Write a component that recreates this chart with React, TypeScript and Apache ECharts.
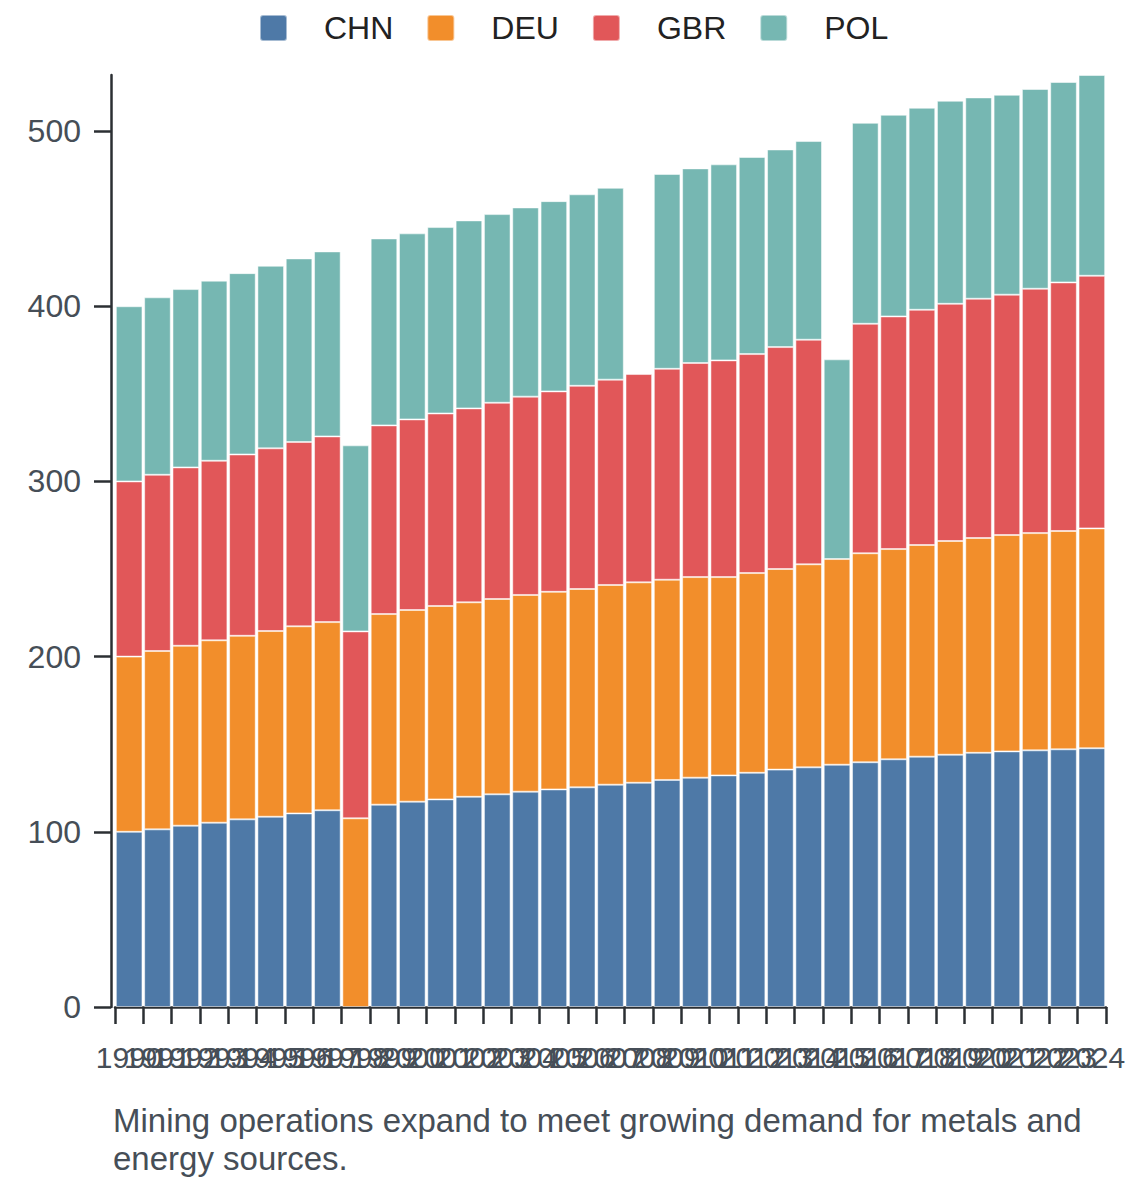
import React, { useEffect, useRef } from "react";
import * as echarts from "echarts";

const years = [
  "1990", "1991", "1992", "1993", "1994", "1995", "1996", "1997", "1998", "1999",
  "2000", "2001", "2002", "2003", "2004", "2005", "2006", "2007", "2008", "2009",
  "2010", "2011", "2012", "2013", "2014", "2015", "2016", "2017", "2018", "2019",
  "2020", "2021", "2022", "2023", "2024",
];

const chn = [
  100, 101.4, 103.5, 105.2, 107.1, 108.6, 110.5, 112.3, null, 115.5,
  117.2, 118.5, 120.0, 121.4, 122.9, 124.2, 125.4, 126.9, 128.0, 129.6,
  130.9, 132.2, 133.7, 135.5, 136.8, 138.3, 139.7, 141.4, 142.9, 144.0,
  145.1, 145.9, 146.5, 147.1, 147.7,
];

const deu = [
  100, 101.8, 102.7, 104.1, 104.8, 106.0, 106.8, 107.4, 107.7, 108.8,
  109.4, 110.4, 111.0, 111.5, 112.3, 112.8, 113.2, 114.0, 114.4, 114.3,
  114.5, 113.2, 114.0, 114.5, 115.9, 117.4, 119.3, 120.0, 120.8, 122.0,
  122.6, 123.5, 124.0, 124.6, 125.5,
];

const gbr = [
  100, 100.6, 101.8, 102.5, 103.5, 104.3, 105.2, 106.0, 106.7, 107.7,
  108.8, 109.9, 110.7, 112.0, 113.2, 114.4, 116.0, 117.2, 118.9, 120.4,
  122.2, 123.7, 125.0, 126.7, 128.2, null, 131.0, 132.8, 134.3, 135.4,
  136.6, 137.2, 139.5, 141.9, 144.2,
];

const pol = [
  100, 101.3, 101.8, 102.8, 103.5, 104.2, 104.8, 105.6, 106.2, 106.7,
  106.2, 106.4, 107.3, 107.7, 108.0, 108.6, 109.3, 109.5, null, 111.2,
  111.1, 111.9, 112.5, 112.8, 113.4, 114.0, 114.7, 115.1, 115.3, 115.9,
  114.9, 114.1, 114.0, 114.4, 114.6,
];

const seriesNames = ["CHN", "DEU", "GBR", "POL"];
const seriesColors = ["#4e79a7", "#f28e2b", "#e15759", "#76b7b2"];
const seriesData = [chn, deu, gbr, pol];

const captionText =
  "Mining operations expand to meet growing demand for metals and\nenergy sources.";

const FONT = "'Liberation Sans', Arial, Helvetica, sans-serif";
const AXIS_COLOR = "#2b2f33";
const LABEL_COLOR = "#464e57";
const LEGEND_ICON =
  "path://M3,0 L24,0 Q27,0 27,3 L27,23 Q27,26 24,26 L3,26 Q0,26 0,23 L0,3 Q0,0 3,0 Z";

export default function App() {
  const ref = useRef<HTMLDivElement | null>(null);

  useEffect(() => {
    if (!ref.current) return;
    const chart = echarts.init(ref.current, null, { renderer: "svg" });
    const option = {
      animation: false,
      backgroundColor: "#ffffff",
      textStyle: { fontFamily: FONT },
      legend: {
        data: seriesNames,
        left: 259,
        top: 12,
        padding: 0,
        icon: LEGEND_ICON,
        itemWidth: 27,
        itemHeight: 26,
        itemGap: 33,
        selectedMode: false,
        textStyle: {
          fontFamily: FONT,
          fontSize: 32,
          color: "#222222",
          padding: [0, 0, 0, 32],
        },
      },
      grid: { left: 115, right: 34, top: 75, bottom: 175, containLabel: false },
      xAxis: {
        type: "category",
        data: years,
        boundaryGap: true,
        axisLine: { show: true, lineStyle: { color: AXIS_COLOR, width: 2.5 } },
        axisTick: {
          show: true,
          alignWithLabel: false,
          interval: 0,
          length: 17,
          lineStyle: { color: AXIS_COLOR, width: 2.5 },
        },
        axisLabel: {
          interval: 0,
          hideOverlap: false,
          fontFamily: FONT,
          fontSize: 30,
          color: LABEL_COLOR,
          margin: 35,
        },
        splitLine: { show: false },
      },
      yAxis: {
        type: "value",
        min: 0,
        max: "dataMax",
        interval: 100,
        offset: 4,
        axisLine: { show: true, lineStyle: { color: AXIS_COLOR, width: 2.5 } },
        axisTick: { show: true, length: 17, lineStyle: { color: AXIS_COLOR, width: 2.5 } },
        axisLabel: {
          fontFamily: FONT,
          fontSize: 32,
          color: LABEL_COLOR,
          margin: 30,
          showMaxLabel: false,
        },
        splitLine: { show: false },
      },
      series: seriesNames.map((name, i) => ({
        name,
        type: "bar",
        stack: "total",
        barCategoryGap: "6%",
        data: seriesData[i].map((v) => (v === null ? "-" : v)),
        itemStyle: {
          color: seriesColors[i],
          borderColor: "rgba(255,255,255,0.5)",
          borderWidth: 1,
        },
        emphasis: { disabled: true },
      })),
      graphic: [
        {
          type: "text",
          left: 113,
          top: 1101,
          style: {
            text: captionText,
            fontFamily: FONT,
            fontSize: 33,
            lineHeight: 38,
            fill: LABEL_COLOR,
          },
        },
      ],
    };
    chart.setOption(option);
    return () => chart.dispose();
  }, []);

  return (
    <div
      ref={ref}
      style={{ position: "fixed", left: 0, top: 0, width: 1140, height: 1182 }}
    />
  );
}
